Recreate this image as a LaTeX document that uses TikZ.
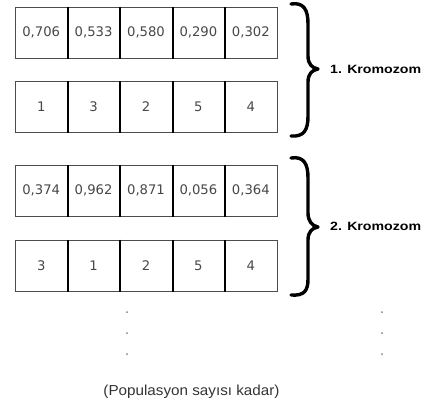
\documentclass[tikz,border=0pt]{standalone}
\usepackage{fontspec}
\newfontfamily\cellfont{DejaVu Sans}
\newfontfamily\labfont[FakeStretch=1.18]{Liberation Sans}
\newfontfamily\popfont[FakeStretch=1.05]{Liberation Sans}
\begin{document}
\begin{tikzpicture}[x=1pt,y=-1pt,
  cell/.style={rectangle, draw=black!70, line width=1pt, minimum width=52.4pt,
    minimum height=51pt, inner sep=0pt,
    font=\cellfont\fontsize{13.2}{15}\selectfont, text=black!72},
  divider/.style={line width=2pt, black},
  bracepath/.style={line width=3.4pt, line cap=round, line join=round, black},
  klabel/.style={anchor=west, inner sep=0pt, font=\labfont\bfseries\fontsize{12}{14}\selectfont},
  dotmark/.style={fill=black!50}]
\useasboundingbox (0,0) rectangle (426,407);
\foreach \v [count=\i] in {{0,706},{0,533},{0,580},{0,290},{0,302}}
  \node[cell] (r1c\i) at ({41.2+52.4*(\i-1)},32.5) {\v};
\foreach \v [count=\i] in {1,3,2,5,4}
  \node[cell] (r2c\i) at ({41.2+52.4*(\i-1)},107) {\v};
\foreach \v [count=\i] in {{0,374},{0,962},{0,871},{0,056},{0,364}}
  \node[cell] (r3c\i) at ({41.2+52.4*(\i-1)},190.5) {\v};
\foreach \v [count=\i] in {3,1,2,5,4}
  \node[cell] (r4c\i) at ({41.2+52.4*(\i-1)},265.5) {\v};
\foreach \r in {1,2,3,4}
  \foreach \i in {1,2,3,4}
    \draw[divider] (r\r c\i.north east) -- (r\r c\i.south east);
\draw[bracepath] (291,4) .. controls (304,2) and (308,10) .. (308,24) -- (308,56)
  .. controls (308,64) and (312,68) .. (318,69)
  .. controls (312,70) and (308,74) .. (308,82) -- (308,116)
  .. controls (308,130) and (304,137) .. (291,136);
\begin{scope}[yshift=-156pt]
\draw[bracepath] (291,2) .. controls (304,0) and (308,8) .. (308,22) -- (308,57)
  .. controls (308,65) and (312,70) .. (318,71)
  .. controls (312,72) and (308,76) .. (308,84) -- (308,123)
  .. controls (308,135) and (304,140) .. (291,139);
\end{scope}
\node[klabel] (k1) at (330,69) {1. Kromozom};
\node[klabel] (k2) at (330,226) {2. Kromozom};
\foreach \y in {312,333,354} {
  \fill[dotmark] (127,\y) circle (1pt);
  \fill[dotmark] (382,\y) circle (1pt);
}
\node[font=\popfont\fontsize{14.5}{17}\selectfont, text=black!80, inner sep=0pt] (pop) at (191.5,391.5) {(Populasyon sayısı kadar)};
\end{tikzpicture}
\end{document}
